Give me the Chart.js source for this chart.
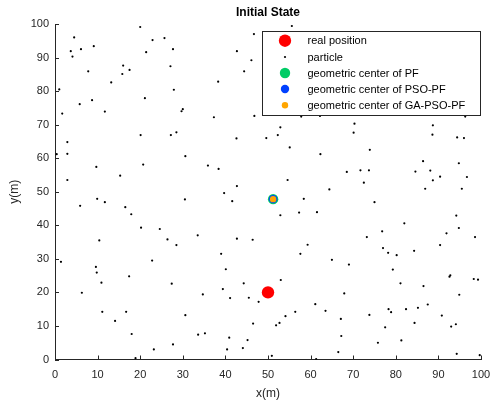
<!DOCTYPE html>
<html>
<head>
<meta charset="utf-8">
<script src="https://cdn.jsdelivr.net/npm/chart.js@4.4.1/dist/chart.umd.min.js"></script>
<style>
  html, body { margin: 0; padding: 0; background: #fff; }
  #wrap { width: 491px; height: 402px; }
</style>
</head>
<body>
<div id="wrap"><canvas id="stateChart"></canvas></div>
<script>
// particle positions [x, y]
var particles = [
  [20.0,99.1],[4.5,96.0],[22.9,95.2],[25.7,95.8],[3.7,91.9],[4.1,90.3],[6.1,92.5],[9.1,93.4],[21.4,91.6],[27.7,92.5],
  [7.8,85.9],[16.0,87.6],[15.8,85.1],[17.5,86.3],[27.1,87.4],[13.2,82.6],[1.0,80.5],[27.9,80.4],[8.7,77.3],[21.1,77.9],
  [5.8,76.1],[1.7,73.3],[11.7,73.9],[29.7,74.0],[30.0,74.6],[20.1,66.9],[27.2,66.9],[28.5,67.7],
  [55.6,99.4],[46.7,97.0],[42.7,91.9],[46.1,89.2],[44.4,85.9],[38.3,82.8],[37.3,72.2],[46.8,72.6],[57.8,72.4],[62.2,72.6],
  [52.9,69.2],[52.3,66.9],[70.3,70.3],[96.3,72.4],[88.7,69.8],
  [2.9,64.8],[2.9,61.3],[0.4,61.2],[30.6,60.6],[9.7,57.4],[20.7,58.1],[15.3,54.8],[2.9,53.5],[9.9,47.9],[11.7,46.9],
  [30.5,47.7],[5.9,45.8],[16.5,45.4],[17.9,43.3],[20.2,39.3],[24.6,38.9],[10.4,35.5],[26.4,35.8],[28.5,34.1],
  [42.6,65.9],[49.6,66.0],[55.1,63.2],[62.3,61.2],[35.9,57.8],[38.4,56.8],[54.6,53.5],[42.7,51.7],[64.4,50.7],[39.7,49.6],
  [41.6,47.2],[58.4,47.9],[52.9,43.0],[57.3,43.8],[61.5,43.9],[33.5,37.0],[42.7,36.0],[46.4,35.7],[59.3,34.2],
  [70.1,67.6],[88.6,67.0],[94.4,66.2],[96.0,66.0],[73.9,62.5],[86.4,59.1],[94.8,58.5],[68.5,55.9],[71.7,56.4],[73.7,56.4],
  [84.6,56.0],[88.1,56.3],[90.4,54.5],[96.7,54.4],[72.5,52.7],[88.7,53.4],[86.9,50.9],[95.5,50.9],[75.0,46.9],[94.2,42.9],
  [82.0,40.6],[94.8,39.2],[76.8,38.2],[91.9,37.6],[73.2,36.5],[98.6,36.5],[90.4,34.1],[77.0,33.2],
  [1.4,29.1],[9.6,27.6],[9.8,25.9],[22.8,29.5],[10.9,22.9],[17.4,24.8],[6.3,19.9],[27.4,22.6],[11.1,14.2],[16.7,14.2],
  [14.1,11.5],[30.6,13.2],[18.0,7.6],[23.2,3.0],[27.7,4.5],[18.9,0.4],
  [39.0,31.5],[57.6,31.5],[65.0,29.7],[40.1,26.9],[44.3,22.7],[53.0,23.7],[39.4,21.0],[34.7,19.4],[41.1,18.3],[45.5,18.4],
  [47.8,17.2],[61.1,16.5],[63.5,14.5],[56.4,14.2],[54.1,12.9],[46.5,10.7],[52.7,10.9],[51.9,10.2],[33.6,7.4],[35.2,7.8],
  [40.9,6.5],[45.2,5.8],[40.4,3.0],[44.1,3.4],[50.9,1.1],[61.3,0.1],
  [78.2,31.8],[80.2,31.1],[84.3,32.4],[69.0,28.3],[79.3,26.8],[92.6,24.7],[92.8,25.1],[98.3,24.0],[99.3,23.8],[81.1,22.7],
  [86.5,21.9],[67.9,19.7],[94.9,19.3],[87.5,16.4],[78.3,15.0],[78.9,14.1],[82.4,15.0],[85.2,15.4],[67.1,12.1],[73.8,13.3],
  [90.8,13.1],[84.4,10.9],[93.0,9.8],[94.1,10.5],[77.5,9.6],[67.2,7.0],[81.3,5.7],[75.8,5.0],[66.5,2.2],[94.3,1.7],
  [99.7,1.3]
];

var realPosition = [50, 20];
var pfCenter = [51.2, 47.8];
var psoCenter = [51.2, 47.8];
var gaPsoCenter = [51.2, 47.8];

var tickValues = [0, 10, 20, 30, 40, 50, 60, 70, 80, 90, 100];
var legendLabels = ['real position', 'particle', 'geometric center of PF', 'geometric center of PSO-PF', 'geometric center of GA-PSO-PF'];

var axisColor = '#262626';
var fontFamily = '"Liberation Sans", Arial, Helvetica, sans-serif';

function toPoints(list) {
  return list.map(function (p) { return { x: p[0], y: p[1] }; });
}

// MATLAB style ticks: drawn inside the axes
var inwardTicks = {
  id: 'inwardTicks',
  afterDraw: function (chart) {
    var c = chart.ctx;
    var xs = chart.scales.x, ys = chart.scales.y;
    c.save();
    c.strokeStyle = axisColor;
    c.lineWidth = 1;
    c.beginPath();
    tickValues.forEach(function (v) {
      var px = Math.round(xs.getPixelForValue(v)) + 0.5;
      c.moveTo(px, xs.top);
      c.lineTo(px, xs.top - 4);
      var py = Math.round(ys.getPixelForValue(v)) + 0.5;
      c.moveTo(ys.right, py);
      c.lineTo(ys.right + 4, py);
    });
    c.stroke();
    c.restore();
  }
};

// legend box in the upper right corner of the axes
var boxLegend = {
  id: 'boxLegend',
  afterDraw: function (chart) {
    var c = chart.ctx;
    var left = 262, top = 31, right = 480, bottom = 115;
    var rows = [40.7, 57, 73, 89, 105.3];
    var order = [1, 0, 2, 3, 4]; // dataset index for each legend row
    c.save();
    c.fillStyle = '#fff';
    c.fillRect(left, top, right - left, bottom - top);
    c.strokeStyle = axisColor;
    c.lineWidth = 1;
    c.strokeRect(left + 0.5, top + 0.5, right - left, bottom - top);
    c.font = '11px ' + fontFamily;
    c.textBaseline = 'middle';
    c.textAlign = 'left';
    order.forEach(function (di, i) {
      var ds = chart.data.datasets[di];
      c.beginPath();
      c.fillStyle = ds.backgroundColor;
      c.arc(285, rows[i], ds.pointRadius, 0, Math.PI * 2);
      c.fill();
      c.fillStyle = '#000';
      c.fillText(ds.label, 307.5, rows[i] + 0.5);
    });
    c.restore();
  }
};

var ctx = document.getElementById('stateChart').getContext('2d');

var stateChart = new Chart(ctx, {
  type: 'scatter',
  data: {
    datasets: [
      {
        label: legendLabels[1],
        data: toPoints(particles),
        backgroundColor: '#000000',
        pointRadius: 1.1,
        pointBorderWidth: 0,
        order: 4
      },
      {
        label: legendLabels[0],
        data: toPoints([realPosition]),
        backgroundColor: '#ff0000',
        pointRadius: 6.2,
        pointBorderWidth: 0,
        order: 3
      },
      {
        label: legendLabels[2],
        data: toPoints([pfCenter]),
        backgroundColor: '#00cc66',
        pointRadius: 5.2,
        pointBorderWidth: 0,
        order: 2
      },
      {
        label: legendLabels[3],
        data: toPoints([psoCenter]),
        backgroundColor: '#0040ff',
        pointRadius: 4.2,
        pointBorderWidth: 0,
        order: 1
      },
      {
        label: legendLabels[4],
        data: toPoints([gaPsoCenter]),
        backgroundColor: '#ffa500',
        pointRadius: 3.2,
        pointBorderWidth: 0,
        order: 0
      }
    ]
  },
  options: {
    responsive: true,
    maintainAspectRatio: false,
    animation: false,
    events: [],
    layout: { padding: 0 },
    plugins: {
      legend: { display: false },
      tooltip: { enabled: false },
      title: {
        display: true,
        text: 'Initial State',
        fullSize: false,
        color: '#000',
        font: { family: fontFamily, size: 12, weight: 'bold' },
        padding: { top: 5.1, bottom: 4.5 }
      }
    },
    scales: {
      x: {
        type: 'linear',
        min: 0,
        max: 100,
        afterBuildTicks: function (scale) {
          scale.ticks = tickValues.map(function (v) { return { value: v }; });
        },
        afterFit: function (scale) {
          scale.height = 42.5;
          scale.paddingRight = 10;
        },
        grid: { display: false, drawTicks: false },
        border: { display: true, color: axisColor, width: 1 },
        ticks: {
          color: axisColor,
          padding: 9,
          maxRotation: 0,
          font: { family: fontFamily, size: 11 }
        },
        title: {
          display: true,
          text: 'x(m)',
          color: axisColor,
          font: { family: fontFamily, size: 12 },
          padding: { top: 0, bottom: 0.8 }
        }
      },
      y: {
        type: 'linear',
        min: 0,
        max: 100,
        afterBuildTicks: function (scale) {
          scale.ticks = tickValues.map(function (v) { return { value: v }; });
        },
        afterFit: function (scale) { scale.width = 55; },
        grid: { display: false, drawTicks: false },
        border: { display: true, color: axisColor, width: 1 },
        ticks: {
          color: axisColor,
          padding: 6,
          font: { family: fontFamily, size: 11 }
        },
        title: {
          display: true,
          text: 'y(m)',
          color: axisColor,
          font: { family: fontFamily, size: 12 },
          padding: { top: 7.8, bottom: 0 }
        }
      }
    }
  },
  plugins: [inwardTicks, boxLegend]
});
</script>
</body>
</html>
